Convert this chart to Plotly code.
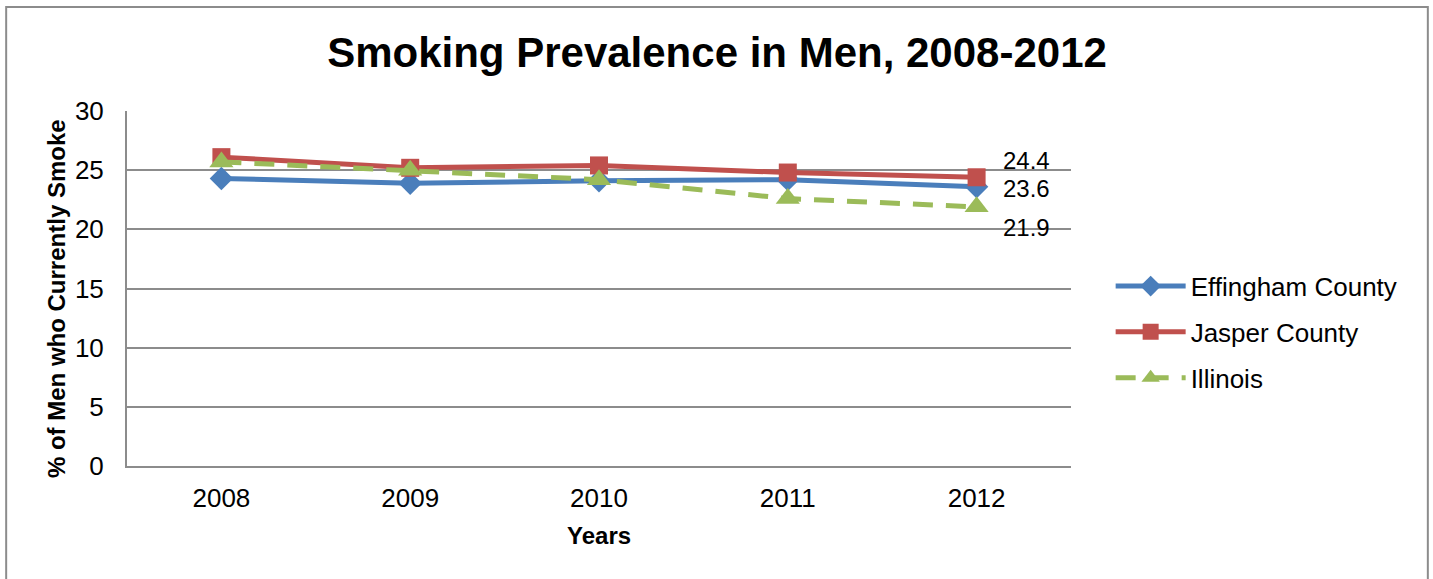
import plotly.graph_objects as go

years = ["2008", "2009", "2010", "2011", "2012"]
effingham = [24.3, 23.9, 24.1, 24.2, 23.6]
jasper = [26.1, 25.2, 25.4, 24.8, 24.4]
illinois = [25.7, 25.0, 24.2, 22.6, 21.9]

FONT = "Liberation Sans, Arial, sans-serif"
BLUE = "#4A7EBB"
RED = "#C0504D"
GREEN = "#9BBB59"

fig = go.Figure()
fig.add_trace(go.Scatter(x=years, y=effingham, name="Effingham County", mode="lines+markers",
                         line=dict(color=BLUE, width=5),
                         marker=dict(symbol="diamond", size=18, color=BLUE),
                         legendgroup="a"))
fig.add_trace(go.Scatter(x=years, y=jasper, name="Jasper County", mode="lines+markers",
                         line=dict(color=RED, width=5),
                         marker=dict(symbol="square", size=18, color=RED),
                         legendgroup="b"))
fig.add_trace(go.Scatter(x=years, y=illinois, name="Illinois", mode="lines+markers",
                         line=dict(color=GREEN, width=5, dash="20px,13px"),
                         marker=dict(symbol="triangle-up", size=21, color=GREEN),
                         legendgroup="c"))

# data labels for last point
last = len(years) - 1
label_shift = [-2, 17, -21]
for vals, ys in zip([effingham, jasper, illinois], label_shift):
    fig.add_annotation(x=last, y=vals[-1], xref="x", yref="y", text=f"{vals[-1]:.1f}",
                       showarrow=False, xanchor="left", yanchor="middle", xshift=25, yshift=ys,
                       borderpad=0, font=dict(family=FONT, size=24, color="black"))

# axis titles
fig.add_annotation(text="<b>Years</b>", xref="paper", yref="paper", x=0.5, y=-0.195,
                   showarrow=False, xanchor="center", yanchor="middle",
                   font=dict(family=FONT, size=24, color="black"))
fig.add_annotation(text="<b>% of Men who Currently Smoke</b>", xref="paper", yref="paper",
                   x=-0.0745, y=0.472, textangle=-90, showarrow=False,
                   xanchor="center", yanchor="middle",
                   font=dict(family=FONT, size=24, color="black"))

# outer chart border
fig.add_shape(type="rect", xref="paper", yref="paper", x0=-0.128, x1=1.378, y0=-0.33, y1=1.293,
              line=dict(color="#8C8C8C", width=2), fillcolor="rgba(0,0,0,0)", layer="below")

fig.update_layout(
    width=1433, height=579,
    margin=dict(l=127, r=362, t=111, b=113),
    paper_bgcolor="white", plot_bgcolor="white",
    font=dict(family=FONT, size=26, color="black"),
    title=dict(text="<b>Smoking Prevalence in Men, 2008-2012</b>", x=717/1433, xanchor="center",
               y=1 - 52/579, yanchor="middle", font=dict(family=FONT, size=42, color="black")),
    showlegend=True,
    legend=dict(x=1.042, xanchor="left", y=0.377, yanchor="middle", tracegroupgap=9,
                font=dict(family=FONT, size=26, color="black"), bgcolor="rgba(0,0,0,0)",
                itemwidth=70),
    xaxis=dict(type="category", range=[-0.5, 4.5], showgrid=False, showline=True,
               linecolor="#8C8C8C", linewidth=2, ticks="", ticklabelstandoff=8,
               tickfont=dict(family=FONT, size=26, color="black"), zeroline=False),
    yaxis=dict(range=[0, 30], dtick=5, showgrid=True, gridcolor="#8C8C8C", gridwidth=1.5,
               showline=True, linecolor="#8C8C8C", linewidth=2, ticks="", ticklabelstandoff=16,
               tickfont=dict(family=FONT, size=26, color="black"), zeroline=False),
)

fig.write_html("out.html")
